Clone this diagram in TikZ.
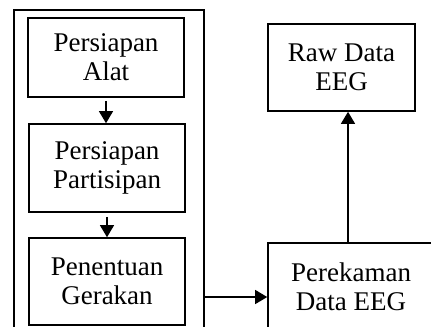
\documentclass[tikz,border=0pt]{standalone}
\usepackage{fontspec}
\setmainfont{Liberation Serif}
\usetikzlibrary{
  arrows.meta,
  positioning
}
\tikzset{
  % For the step boxes.
  stepbox/.style={
    draw,
    line width=0.8pt,
    align=center,
    inner sep=0pt,
    font=\fontsize{13.5}{14.5}\selectfont},
%
  % For the large frame round the preparation steps.
  panel/.style={
    draw,
    line width=1pt,
    inner sep=0pt},
%
  % For connectors with one arrow.
  flow/.style={
    line width=0.6pt,
    -{Triangle[length=6pt,width=7pt]}}
}

\begin{document}
\begin{tikzpicture}[x=0.5pt, y=-0.5pt]
  \useasboundingbox (0,0) rectangle (431,326);
  \clip (0,0) rectangle (431,326);

  \node [panel, minimum width=95pt, minimum height=167.5pt] (frame) at (109,177.5) {};

  \node [stepbox, minimum width=78pt, minimum height=39.5pt]
        (alat) at (106,57.5) {Persiapan\\Alat};
  \node [stepbox, minimum width=78pt, minimum height=44pt]
        (partisipan) at (107,168) {Persiapan\\Partisipan};
  \node [stepbox, minimum width=78pt, minimum height=43.5pt]
        (gerakan) at (107,281.5) {Penentuan\\Gerakan};

  \node [stepbox, minimum width=73.5pt, minimum height=43.5pt]
        (raw) at (341.5,67.5) {Raw Data\\EEG};
  \node [stepbox, minimum width=83pt, minimum height=44pt]
        (perekaman) at (351,287) {Perekaman\\Data EEG};

  \draw[flow, shorten <=1.5pt] (alat.south) -- (alat.south |- partisipan.north);
  \draw[flow, shorten <=2pt] (partisipan.south) -- (partisipan.south |- gerakan.north);

  \draw[flow] ([yshift=-5pt]frame.east |- perekaman.west)
                -- ([yshift=-5pt]perekaman.west);
  \draw[flow] ([xshift=-1.5pt]perekaman.north)
                -- ([xshift=-1.5pt]perekaman.north |- raw.south);
\end{tikzpicture}
\end{document}
